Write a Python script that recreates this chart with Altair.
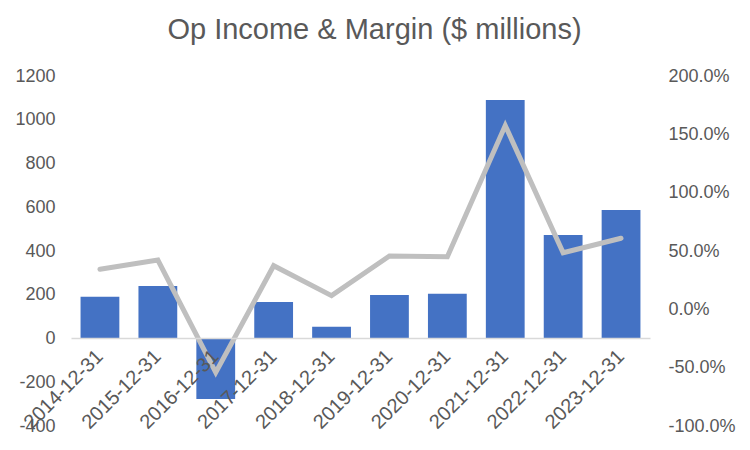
import altair as alt
import pandas as pd

years = ["2014-12-31", "2015-12-31", "2016-12-31", "2017-12-31", "2018-12-31",
         "2019-12-31", "2020-12-31", "2021-12-31", "2022-12-31", "2023-12-31"]
op_income = [191, 240, -277, 167, 54, 199, 205, 1090, 473, 587]
op_margin = [0.343, 0.423, -0.54, 0.374, 0.117, 0.457, 0.451, 1.575, 0.485, 0.609]

df = pd.DataFrame({"Year": years, "OpIncome": op_income, "Margin": op_margin})

FONT = "Liberation Sans"
GREY = "#595959"

x_enc = alt.X(
    "Year:N", sort=years, title=None,
    scale=alt.Scale(paddingInner=0.33, paddingOuter=0.165),
    axis=alt.Axis(labelAngle=-45, labelAlign="right", labelBaseline="middle",
                  labelPadding=15, ticks=False, domainColor="#D9D9D9", domainWidth=1.5,
                  offset=-88, labelFont=FONT, labelFontSize=20, labelColor=GREY,
                  labelOverlap=False, labelBound=False, zindex=1),
)

bars = alt.Chart(df).mark_bar(color="#4472C4").encode(
    x=x_enc,
    y=alt.Y("OpIncome:Q", title=None,
            scale=alt.Scale(domain=[-400, 1200], nice=False, zero=False),
            axis=alt.Axis(values=[-400, -200, 0, 200, 400, 600, 800, 1000, 1200],
                          labelExpr="'' + datum.value",
                          grid=False, domain=False, ticks=False, labelPadding=16,
                          labelFont=FONT, labelFontSize=18, labelColor=GREY)),
)

line = alt.Chart(df).mark_line(color="#BFBFBF", strokeWidth=5, strokeCap="round",
                               strokeJoin="miter").encode(
    x=alt.X("Year:N", sort=years),
    y=alt.Y("Margin:Q", title=None,
            scale=alt.Scale(domain=[-1, 2], nice=False, zero=False),
            axis=alt.Axis(orient="right",
                          labelExpr="(datum.value < 0 ? '-' : '') + format(abs(datum.value), '.1%')",
                          values=[-1, -0.5, 0, 0.5, 1, 1.5, 2],
                          grid=False, domain=False, ticks=False, labelPadding=18,
                          labelFont=FONT, labelFontSize=18, labelColor=GREY)),
)

chart = alt.layer(bars, line).resolve_scale(y="independent").properties(
    width=579, height=350,
    autosize=alt.AutoSizeParams(type="none"),
    padding={"left": 71, "top": 76, "right": 100, "bottom": 24},
    background="white",
    title=alt.TitleParams("Op Income & Margin ($ millions)", font=FONT, fontSize=29,
                          fontWeight="normal", color=GREY, anchor="middle",
                          frame="group", dx=14, offset=22),
).configure_view(stroke=None)

chart.save("out.html", embed_options={"renderer": "svg", "actions": False})
